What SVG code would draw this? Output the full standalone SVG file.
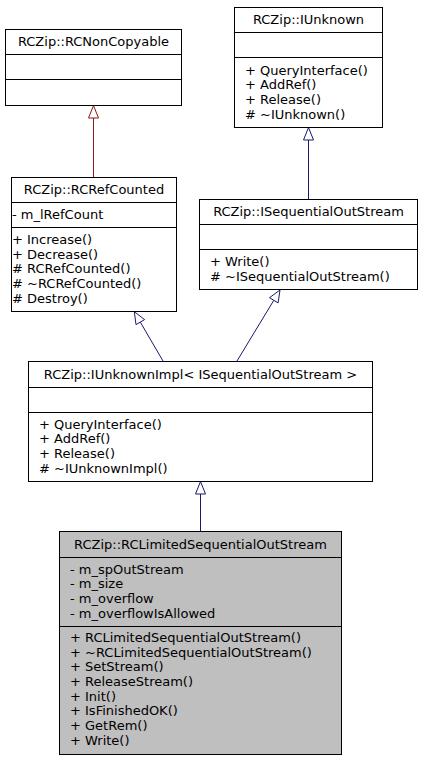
<svg xmlns="http://www.w3.org/2000/svg" width="421" height="760" viewBox="0 0 421 760">
<style>
text{font-family:"DejaVu Sans","Liberation Sans",sans-serif;font-size:13px;fill:#000}
.t{text-anchor:middle}
.box{fill:#fff;stroke:#000;stroke-width:1}
.cur{fill:#bfbfbf;stroke:#000;stroke-width:1}
.div{stroke:#000;stroke-width:1}
.pub{stroke:#191970;fill:none;stroke-width:1}
.pubh{stroke:#191970;fill:#fff;stroke-width:1}
.pri{stroke:#8b1a1a;fill:none;stroke-width:1}
.prih{stroke:#8b1a1a;fill:#fff;stroke-width:1}
</style>
<rect width="421" height="760" fill="#fff"/>
<g id="connectors">
<line class="pri" x1="93.5" y1="118" x2="93.5" y2="177.5"/>
<polygon class="prih" points="93.5,105.5 88.5,118 98.5,118"/>
<line class="pub" x1="308.5" y1="140" x2="308.5" y2="199.5"/>
<polygon class="pubh" points="308.5,127.5 303.5,140 313.5,140"/>
<line class="pub" x1="140.3" y1="322.1" x2="163.3" y2="361.5"/>
<polygon class="pubh" points="134.3,311.7 144.6,319.6 136,324.6"/>
<line class="pub" x1="273.8" y1="300.3" x2="236.7" y2="361.5"/>
<polygon class="pubh" points="280,290 278.1,302.9 269.5,297.7"/>
<line class="pub" x1="200.5" y1="494" x2="200.5" y2="531.5"/>
<polygon class="pubh" points="200.5,481.5 195.5,494 205.5,494"/>
</g>
<g id="RCNonCopyable">
<rect class="box" x="5.5" y="29.5" width="176" height="76"/>
<line class="div" x1="5.5" y1="54.5" x2="181.5" y2="54.5"/>
<line class="div" x1="5.5" y1="79.5" x2="181.5" y2="79.5"/>
<text class="t" x="93.5" y="46">RCZip::RCNonCopyable</text>
</g>
<g id="IUnknown">
<rect class="box" x="234.5" y="7.5" width="148" height="120"/>
<line class="div" x1="234.5" y1="32.5" x2="382.5" y2="32.5"/>
<line class="div" x1="234.5" y1="57.5" x2="382.5" y2="57.5"/>
<text class="t" x="308.5" y="24">RCZip::IUnknown</text>
<text x="245" y="74.5">+ QueryInterface()</text>
<text x="245" y="89.2">+ AddRef()</text>
<text x="245" y="103.8">+ Release()</text>
<text x="245" y="118.5"># ~IUnknown()</text>
</g>
<g id="RCRefCounted">
<rect class="box" x="11.5" y="177.5" width="165" height="134"/>
<line class="div" x1="11.5" y1="202.5" x2="176.5" y2="202.5"/>
<line class="div" x1="11.5" y1="227.5" x2="176.5" y2="227.5"/>
<text class="t" x="94" y="194">RCZip::RCRefCounted</text>
<text x="12" y="218.5">- m_lRefCount</text>
<text x="12" y="244">+ Increase()</text>
<text x="12" y="258.7">+ Decrease()</text>
<text x="12" y="273.3"># RCRefCounted()</text>
<text x="12" y="288"># ~RCRefCounted()</text>
<text x="12" y="302.7"># Destroy()</text>
</g>
<g id="ISequentialOutStream">
<rect class="box" x="199.5" y="199.5" width="218" height="90"/>
<line class="div" x1="199.5" y1="224.5" x2="417.5" y2="224.5"/>
<line class="div" x1="199.5" y1="249.5" x2="417.5" y2="249.5"/>
<text class="t" x="308.5" y="216">RCZip::ISequentialOutStream</text>
<text x="210" y="266">+ Write()</text>
<text x="210" y="280.7"># ~ISequentialOutStream()</text>
</g>
<g id="IUnknownImpl">
<rect class="box" x="28.5" y="361.5" width="344" height="120"/>
<line class="div" x1="28.5" y1="387.5" x2="372.5" y2="387.5"/>
<line class="div" x1="28.5" y1="412.5" x2="372.5" y2="412.5"/>
<text class="t" x="200.5" y="378.5">RCZip::IUnknownImpl&lt; ISequentialOutStream &gt;</text>
<text x="39" y="428.5">+ QueryInterface()</text>
<text x="39" y="443.2">+ AddRef()</text>
<text x="39" y="457.8">+ Release()</text>
<text x="39" y="472.5"># ~IUnknownImpl()</text>
</g>
<g id="RCLimitedSequentialOutStream">
<rect class="cur" x="59.5" y="531.5" width="282" height="223"/>
<line class="div" x1="59.5" y1="557.5" x2="341.5" y2="557.5"/>
<line class="div" x1="59.5" y1="626.5" x2="341.5" y2="626.5"/>
<text class="t" x="200.5" y="548.5">RCZip::RCLimitedSequentialOutStream</text>
<text x="70" y="573.5">- m_spOutStream</text>
<text x="70" y="588.2">- m_size</text>
<text x="70" y="602.8">- m_overflow</text>
<text x="70" y="617.5">- m_overflowIsAllowed</text>
<text x="70" y="642">+ RCLimitedSequentialOutStream()</text>
<text x="70" y="656.7">+ ~RCLimitedSequentialOutStream()</text>
<text x="70" y="671.3">+ SetStream()</text>
<text x="70" y="686">+ ReleaseStream()</text>
<text x="70" y="700.7">+ Init()</text>
<text x="70" y="715.3">+ IsFinishedOK()</text>
<text x="70" y="730">+ GetRem()</text>
<text x="70" y="744.7">+ Write()</text>
</g>
</svg>
